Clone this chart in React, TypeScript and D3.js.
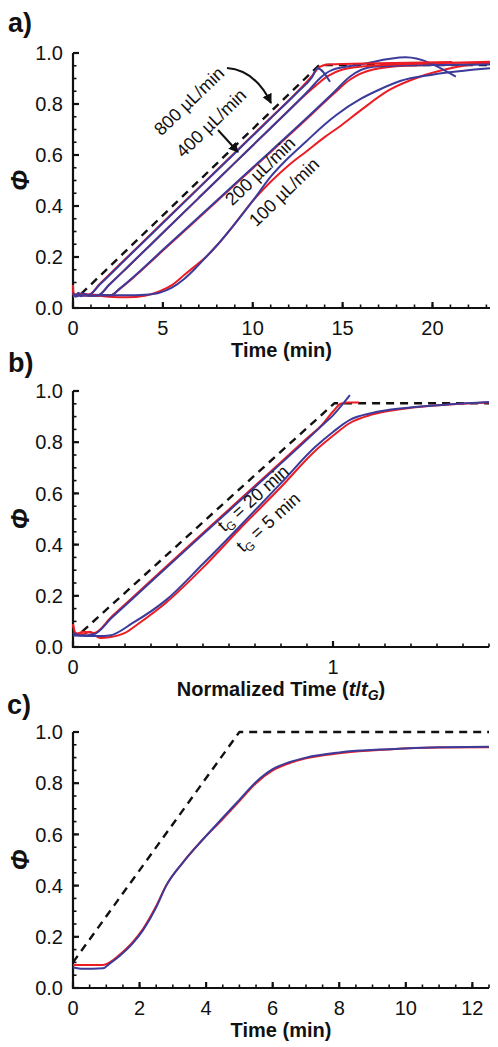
import React from 'react';
import * as d3 from 'd3';

type Pt = [number, number];

// ---------- shared ----------
const PHI_MAJOR = [0, 0.2, 0.4, 0.6, 0.8, 1.0];
const PHI_MINOR = d3.range(0, 1.0001, 0.05);

// ---------- panel a ----------
const A_X_MAJOR = [0, 5, 10, 15, 20];
const A_X_MINOR = d3.range(0, 23.5, 1);
const A_LABELS = ['800 µL/min', '400 µL/min', '200 µL/min', '100 µL/min'];
const A_DASHED: Pt[] = [[0.45, 0.055], [13.7, 0.953], [23.2, 0.953]];
const A_RED_800: Pt[] = [[0, 0.09], [0.03, 0.045], [0.3, 0.055], [0.85, 0.05], [1.5, 0.095], [3, 0.198], [5, 0.335], [7, 0.472], [9, 0.609], [11, 0.746], [12.5, 0.849], [13.3, 0.91], [13.7, 0.945], [14.2, 0.955], [17, 0.96], [21.1, 0.965]];
const A_BLUE_800: Pt[] = [[0, 0.06], [0.15, 0.045], [0.3, 0.06], [0.45, 0.046], [0.6, 0.055], [0.85, 0.05], [1.5, 0.093], [3, 0.196], [5, 0.333], [7, 0.47], [9, 0.607], [11, 0.744], [12.5, 0.847], [13.3, 0.905], [13.6, 0.94], [14.3, 0.887]];
const A_RED_400: Pt[] = [[0, 0.07], [0.05, 0.05], [0.6, 0.055], [1.4, 0.05], [2, 0.09], [3, 0.158], [5, 0.295], [7, 0.432], [9, 0.569], [11, 0.706], [12.5, 0.809], [13.5, 0.872], [14.2, 0.91], [15, 0.935], [16.5, 0.95], [20, 0.96], [23.2, 0.966]];
const A_BLUE_400: Pt[] = [[0, 0.055], [0.2, 0.045], [0.5, 0.058], [0.9, 0.048], [1.4, 0.05], [2, 0.09], [3, 0.158], [5, 0.295], [7, 0.432], [9, 0.569], [11, 0.706], [12.5, 0.809], [13.2, 0.86], [13.8, 0.905], [14.4, 0.933], [16, 0.955], [18.5, 0.983], [21.3, 0.907]];
const A_RED_200: Pt[] = [[0, 0.055], [1, 0.05], [2.1, 0.05], [2.6, 0.075], [3.5, 0.128], [5, 0.225], [7, 0.354], [9, 0.483], [11, 0.612], [13, 0.741], [14.5, 0.84], [15.4, 0.895], [16.7, 0.935], [18.5, 0.95], [23.2, 0.958]];
const A_BLUE_200: Pt[] = [[0, 0.05], [1, 0.052], [2.1, 0.05], [2.6, 0.076], [3.5, 0.13], [5, 0.228], [7, 0.357], [9, 0.486], [11, 0.615], [13, 0.745], [14.5, 0.845], [15.4, 0.907], [16.7, 0.946], [19, 0.952], [23.2, 0.955]];
const A_RED_100: Pt[] = [[0, 0.05], [1, 0.05], [2, 0.044], [3, 0.042], [4, 0.048], [4.8, 0.065], [5.5, 0.09], [6.2, 0.13], [6.8, 0.165], [7.4, 0.2], [8, 0.245], [9, 0.33], [10, 0.42], [11, 0.495], [12, 0.56], [13, 0.615], [14, 0.67], [14.8, 0.71], [16, 0.775], [17.6, 0.855], [19.3, 0.907], [21, 0.94], [23.2, 0.965]];
const A_BLUE_100: Pt[] = [[0, 0.05], [1, 0.048], [2, 0.05], [3, 0.05], [4, 0.052], [4.8, 0.06], [5.5, 0.08], [6.2, 0.115], [6.8, 0.155], [7.4, 0.2], [8, 0.245], [9, 0.33], [10, 0.42], [11, 0.515], [12, 0.59], [13, 0.655], [14, 0.72], [14.65, 0.757], [16, 0.82], [17, 0.855], [18.2, 0.89], [20, 0.915], [23.2, 0.94]];

// ---------- panel b ----------
const B_X_MAJOR = [0, 1];
const B_X_MINOR = d3.range(0, 1.65, 0.1);
const B_LABELS = ['20 min', '5 min'];
const B_DASHED: Pt[] = [[0.035, 0.06], [1.005, 0.952], [1.6, 0.952]];
const B_RED_20: Pt[] = [[0, 0.09], [0.01, 0.05], [0.04, 0.06], [0.08, 0.055], [0.15, 0.12], [0.3, 0.26], [0.5, 0.445], [0.7, 0.63], [0.9, 0.815], [0.96, 0.87], [1.0, 0.92], [1.03, 0.95], [1.06, 0.955], [1.1, 0.955]];
const B_BLUE_20: Pt[] = [[0, 0.055], [0.03, 0.045], [0.08, 0.05], [0.15, 0.115], [0.3, 0.255], [0.5, 0.44], [0.7, 0.625], [0.9, 0.81], [0.963, 0.87], [1.0, 0.905], [1.03, 0.94], [1.065, 0.984]];
const B_RED_5: Pt[] = [[0, 0.085], [0.01, 0.055], [0.04, 0.05], [0.065, 0.06], [0.085, 0.045], [0.105, 0.035], [0.14, 0.038], [0.2, 0.055], [0.25, 0.09], [0.36, 0.175], [0.5, 0.31], [0.64, 0.46], [0.8, 0.625], [0.93, 0.765], [1.0, 0.825], [1.065, 0.875], [1.15, 0.908], [1.28, 0.932], [1.45, 0.947], [1.6, 0.955]];
const B_BLUE_5: Pt[] = [[0, 0.045], [0.1, 0.043], [0.14, 0.045], [0.23, 0.094], [0.36, 0.185], [0.5, 0.325], [0.64, 0.47], [0.8, 0.64], [0.93, 0.78], [1.0, 0.84], [1.065, 0.887], [1.15, 0.914], [1.28, 0.934], [1.45, 0.948], [1.6, 0.957]];

// ---------- panel c ----------
const C_X_MAJOR = [0, 2, 4, 6, 8, 10, 12];
const C_X_MINOR = d3.range(0, 12.51, 0.5);
const C_DASHED: Pt[] = [[0, 0.1], [5, 1], [12.5, 1]];
const C_RED: Pt[] = [[0, 0.09], [0.9, 0.09], [1.1, 0.1], [1.4, 0.13], [1.8, 0.18], [2.1, 0.23], [2.5, 0.32], [2.8, 0.4], [3.3, 0.49], [3.9, 0.58], [4.5, 0.66], [5, 0.73], [5.5, 0.8], [6, 0.85], [6.5, 0.878], [7, 0.897], [8, 0.917], [9.5, 0.932], [11, 0.939], [12.5, 0.94]];
const C_BLUE: Pt[] = [[0, 0.08], [0.3, 0.075], [0.9, 0.077], [1.1, 0.095], [1.4, 0.125], [1.8, 0.175], [2.1, 0.225], [2.5, 0.315], [2.8, 0.4], [3.3, 0.49], [3.9, 0.58], [4.5, 0.665], [5, 0.735], [5.5, 0.805], [6, 0.855], [6.5, 0.882], [7, 0.9], [8, 0.92], [9.5, 0.933], [11, 0.94], [12.5, 0.942]];

const RED = '#ec1c24';
const BLUE = '#3b3b9b';
const FONT = 'Arial, "Liberation Sans", Helvetica, sans-serif';

type Scale = d3.ScaleLinear<number, number>;

function Axes({ x, y, xMajor, xMinor, title }: { x: Scale; y: Scale; xMajor: number[]; xMinor: number[]; title: React.ReactNode }) {
  const [x0, x1] = x.range();
  const [y0, y1] = y.range();
  const fmtY = d3.format('.1f');
  return (
    <g fontFamily={FONT} fill="#111">
      <line x1={x0} x2={x0} y1={y0 + 1} y2={y1} stroke="#111" strokeWidth={2.2} />
      <line x1={x0 - 1} x2={x1} y1={y0} y2={y0} stroke="#111" strokeWidth={2.2} />
      {PHI_MINOR.map((v, i) => (
        <line key={'ym' + i} x1={x0} x2={x0 + 3.5} y1={y(v)} y2={y(v)} stroke="#111" strokeWidth={1.6} />
      ))}
      {PHI_MAJOR.map((v, i) => (
        <g key={'yM' + i}>
          <line x1={x0} x2={x0 + 6} y1={y(v)} y2={y(v)} stroke="#111" strokeWidth={2.2} />
          <text x={x0 - 10} y={y(v)} dy="0.36em" textAnchor="end" fontSize={20}>{fmtY(v)}</text>
        </g>
      ))}
      {xMinor.map((v, i) => (
        <line key={'xm' + i} x1={x(v)} x2={x(v)} y1={y0} y2={y0 - 3.5} stroke="#111" strokeWidth={1.6} />
      ))}
      {xMajor.map((v, i) => (
        <g key={'xM' + i}>
          <line x1={x(v)} x2={x(v)} y1={y0} y2={y0 - 6} stroke="#111" strokeWidth={2.2} />
          <text x={x(v)} y={y0 + 27} textAnchor="middle" fontSize={20}>{v}</text>
        </g>
      ))}
      <text x={(x0 + x1) / 2} y={y0 + 49} textAnchor="middle" fontSize={20} fontWeight="bold">{title}</text>
      <text transform={`translate(20,${(y0 + y1) / 2}) rotate(-90)`} textAnchor="middle" dy="0.35em" fontSize={25} fontWeight="bold" fontStyle="italic">Φ</text>
    </g>
  );
}

function Series({ x, y, data, color, dashed }: { x: Scale; y: Scale; data: Pt[]; color: string; dashed?: boolean }) {
  const gen = d3.line<Pt>().x(d => x(d[0])).y(d => y(d[1])).curve(dashed ? d3.curveLinear : d3.curveMonotoneX);
  return (
    <path d={gen(data) || ''} fill="none" stroke={color} strokeWidth={dashed ? 2.4 : 2}
      strokeDasharray={dashed ? '8,6' : undefined} strokeLinejoin="round" strokeLinecap="butt" />
  );
}

export default function App() {
  const xa = d3.scaleLinear().domain([0, 23.2]).range([73, 490]);
  const ya = d3.scaleLinear().domain([0, 1]).range([308, 53]);
  const xb = d3.scaleLinear().domain([0, 1.6]).range([73, 489]);
  const yb = d3.scaleLinear().domain([0, 1]).range([647, 391]);
  const xc = d3.scaleLinear().domain([0, 12.5]).range([73, 489]);
  const yc = d3.scaleLinear().domain([0, 1]).range([988, 732]);

  const aPairs: [Pt[], Pt[]][] = [[A_RED_100, A_BLUE_100], [A_RED_200, A_BLUE_200], [A_RED_400, A_BLUE_400], [A_RED_800, A_BLUE_800]];
  const aLabelPos: [number, number][] = [[189, 101], [211, 123], [260, 171], [284, 192]];

  return (
    <svg width={498} height={1047} style={{ position: 'absolute', left: 0, top: 0, background: '#fff' }}>
      <defs>
        <marker id="ah" viewBox="0 0 10 10" refX={9} refY={5} markerWidth={10} markerHeight={10} markerUnits="userSpaceOnUse" orient="auto">
          <path d="M0,0 L10,5 L0,10 z" fill="#111" />
        </marker>
      </defs>
      <rect width={498} height={1047} fill="#fff" />
      {/* panel labels */}
      <g fontFamily={FONT} fontWeight="bold" fontSize={27} fill="#111">
        <text x={8} y={32}>a)</text>
        <text x={8} y={372}>b)</text>
        <text x={7} y={714}>c)</text>
      </g>

      {/* ---- panel a ---- */}
      <Axes x={xa} y={ya} xMajor={A_X_MAJOR} xMinor={A_X_MINOR} title="Time (min)" />
      <Series x={xa} y={ya} data={A_DASHED} color="#111" dashed />
      {aPairs.map(([r, b], i) => (
        <g key={'a' + i}>
          <Series x={xa} y={ya} data={r} color={RED} />
          <Series x={xa} y={ya} data={b} color={BLUE} />
        </g>
      ))}
      <g fontFamily={FONT} fontSize={18} fill="#111">
        {A_LABELS.map((t, i) => (
          <text key={t} transform={`translate(${aLabelPos[i][0]},${aLabelPos[i][1]}) rotate(-44)`} textAnchor="middle" dy="0.35em">{t}</text>
        ))}
      </g>
      <path d="M227,68 Q255,70 271,103" fill="none" stroke="#111" strokeWidth={2} markerEnd="url(#ah)" />
      <path d="M218,130 L238,152" fill="none" stroke="#111" strokeWidth={2} markerEnd="url(#ah)" />

      {/* ---- panel b ---- */}
      <Axes x={xb} y={yb} xMajor={B_X_MAJOR} xMinor={B_X_MINOR}
        title={<>Normalized Time (<tspan fontStyle="italic">t</tspan>/<tspan fontStyle="italic">t</tspan><tspan fontStyle="italic" fontSize={14} dy={4}>G</tspan><tspan dy={-4}>)</tspan></>} />
      <Series x={xb} y={yb} data={B_DASHED} color="#111" dashed />
      <Series x={xb} y={yb} data={B_RED_5} color={RED} />
      <Series x={xb} y={yb} data={B_BLUE_5} color={BLUE} />
      <Series x={xb} y={yb} data={B_RED_20} color={RED} />
      <Series x={xb} y={yb} data={B_BLUE_20} color={BLUE} />
      <g fontFamily={FONT} fontSize={18} fill="#111">
        {B_LABELS.map((t, i) => {
          const p = i === 0 ? [253, 498] : [268, 522];
          return (
            <text key={t} transform={`translate(${p[0]},${p[1]}) rotate(-42)`} textAnchor="middle" dy="0.35em">
              t<tspan fontSize={12} dy={4}>G</tspan><tspan dy={-4}> = {t}</tspan>
            </text>
          );
        })}
      </g>

      {/* ---- panel c ---- */}
      <Axes x={xc} y={yc} xMajor={C_X_MAJOR} xMinor={C_X_MINOR} title="Time (min)" />
      <Series x={xc} y={yc} data={C_DASHED} color="#111" dashed />
      <Series x={xc} y={yc} data={C_RED} color={RED} />
      <Series x={xc} y={yc} data={C_BLUE} color={BLUE} />
    </svg>
  );
}
